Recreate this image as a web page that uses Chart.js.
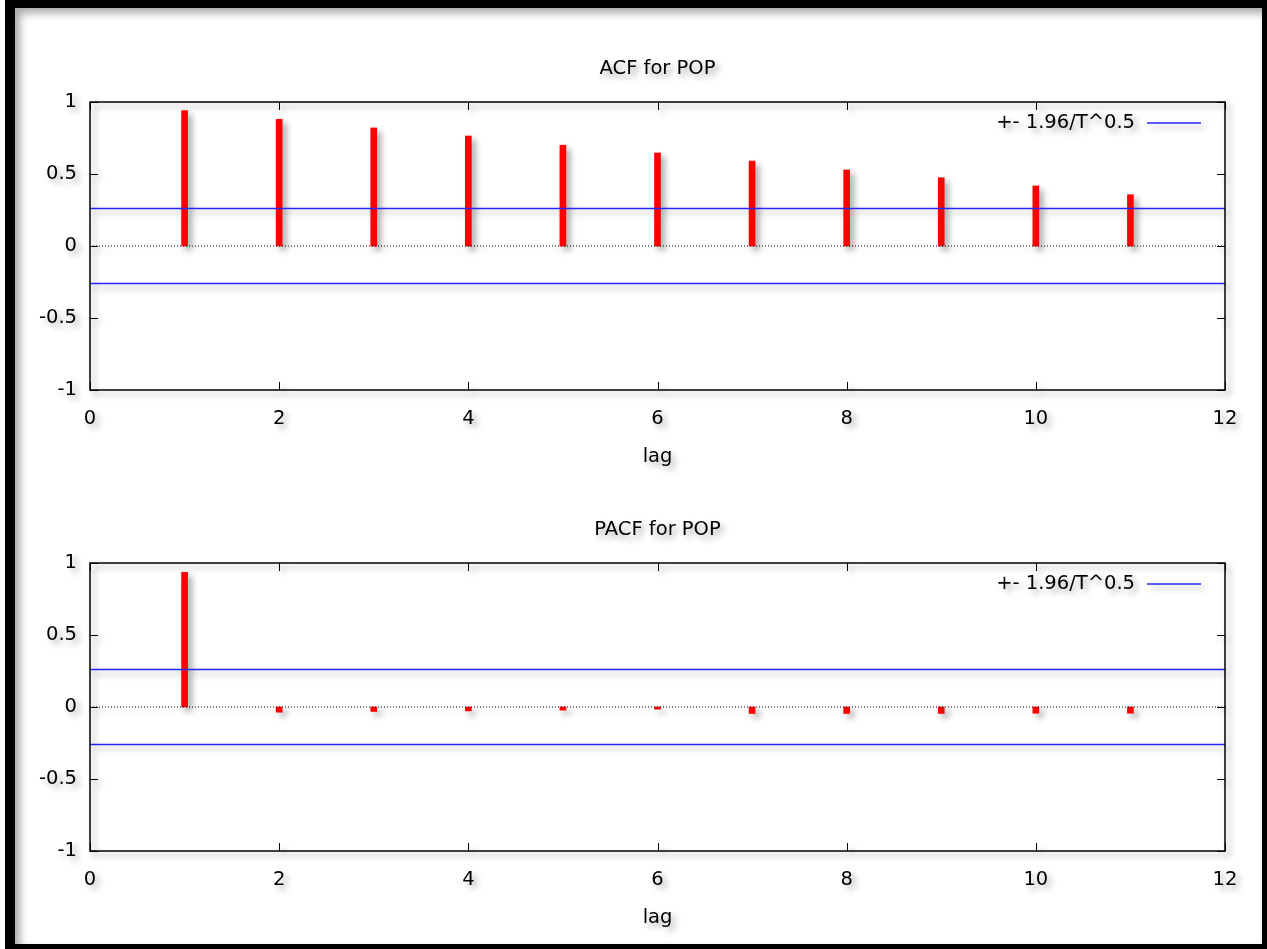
<!DOCTYPE html>
<html>
<head>
<meta charset="utf-8">
<title>ACF / PACF for POP</title>
<script src="https://cdn.jsdelivr.net/npm/chart.js@4.4.1/dist/chart.umd.min.js"></script>
<style>
  html, body { margin: 0; padding: 0; background: #fff; }
  body { width: 1267px; height: 949px; position: relative; overflow: hidden; }
  #frame {
    position: absolute; left: 5px; top: 0; width: 1262px; height: 949px;
    box-sizing: border-box; border-style: solid; border-color: #000;
    border-width: 8px 5px 5px 10px;
    box-shadow: inset 5px 5px 8px rgba(0,0,0,0.35);
  }
  canvas { position: absolute; left: 0; filter: drop-shadow(4px 4px 3px rgba(0,0,0,0.35)); }
  #acf { top: 0; }
  #pacf { top: 461px; }
</style>
</head>
<body>
<div id="frame"></div>
<canvas id="acf" width="1267" height="480"></canvas>
<canvas id="pacf" width="1267" height="480"></canvas>
<script>
// values
const lags = [1, 2, 3, 4, 5, 6, 7, 8, 9, 10, 11];
const acfValues = [0.94, 0.88, 0.82, 0.764, 0.70, 0.646, 0.59, 0.528, 0.474, 0.417, 0.356];
const pacfValues = [0.935, -0.036, -0.031, -0.027, -0.022, -0.015, -0.045, -0.045, -0.045, -0.043, -0.043];
const bandValue = 0.26; // +- 1.96/T^0.5
const bandLabel = '+- 1.96/T^0.5';
const lagRange = [0, 12];
const xTickStep = 2;
const yRange = [-1, 1];
const yTickStep = 0.5;

const FONT = { family: 'DejaVu Sans', size: 19.5 };

// gnuplot style box: frame, inward mirrored ticks and the key
const gnuplotBox = {
  id: 'gnuplotBox',
  afterDraw(chart) {
    const { ctx, chartArea: a, scales: { x, y } } = chart;
    ctx.save();
    ctx.strokeStyle = '#000';
    ctx.lineWidth = 1;
    ctx.beginPath();
    x.ticks.forEach(t => {
      const px = Math.round(x.getPixelForValue(t.value)) + 0.5;
      ctx.moveTo(px, a.bottom); ctx.lineTo(px, a.bottom - 8);
      ctx.moveTo(px, a.top); ctx.lineTo(px, a.top + 8);
    });
    y.ticks.forEach(t => {
      const py = Math.round(y.getPixelForValue(t.value)) + 0.5;
      ctx.moveTo(a.left, py); ctx.lineTo(a.left + 8, py);
      ctx.moveTo(a.right, py); ctx.lineTo(a.right - 8, py);
    });
    ctx.stroke();
    ctx.lineWidth = 1.5;
    ctx.strokeRect(a.left, a.top, a.width, a.height);

    const band = chart.data.datasets[0];
    const ly = a.top + 21;
    ctx.font = FONT.size + 'px "' + FONT.family + '"';
    ctx.fillStyle = '#000';
    ctx.textAlign = 'right';
    ctx.textBaseline = 'middle';
    ctx.fillText(band.label, a.right - 90, ly);
    ctx.strokeStyle = band.borderColor;
    ctx.lineWidth = band.borderWidth;
    ctx.beginPath();
    ctx.moveTo(a.right - 78, ly);
    ctx.lineTo(a.right - 24, ly);
    ctx.stroke();
    ctx.restore();
  }
};

function makeCorrelogram(id, title, values) {
  const ctx = document.getElementById(id);
  return new Chart(ctx, {
    type: 'bar',
    data: {
      datasets: [
        {
          type: 'line',
          label: bandLabel,
          data: lagRange.map(v => ({ x: v, y: bandValue })),
          borderColor: '#2424ff',
          borderWidth: 1.5,
          pointRadius: 0
        },
        {
          type: 'line',
          label: 'lower',
          data: lagRange.map(v => ({ x: v, y: -bandValue })),
          borderColor: '#2424ff',
          borderWidth: 1.5,
          pointRadius: 0
        },
        {
          type: 'line',
          label: 'zero',
          data: lagRange.map(v => ({ x: v, y: 0 })),
          borderColor: '#000',
          borderWidth: 1,
          borderDash: [1, 2],
          pointRadius: 0
        },
        {
          label: title,
          data: lags.map((lag, i) => ({ x: lag, y: values[i] })),
          backgroundColor: '#ff0000',
          barThickness: 6
        }
      ]
    },
    options: {
      responsive: false,
      animation: false,
      layout: { padding: { left: 0, right: 42, top: 0, bottom: 0 } },
      plugins: {
        legend: { display: false },
        tooltip: { enabled: false },
        title: {
          display: true,
          fullSize: false,
          text: title,
          color: '#000',
          font: { family: FONT.family, size: FONT.size, weight: 'normal' },
          padding: { top: 57, bottom: 21.6 }
        }
      },
      scales: {
        x: {
          type: 'linear',
          min: lagRange[0],
          max: lagRange[1],
          offset: false,
          grid: { display: false, drawTicks: false },
          border: { display: false },
          ticks: {
            stepSize: xTickStep,
            padding: 17,
            color: '#000',
            font: { family: FONT.family, size: FONT.size }
          },
          title: {
            display: true,
            text: 'lag',
            color: '#000',
            font: { family: FONT.family, size: FONT.size },
            padding: { top: 4, bottom: 11 }
          },
          afterFit(scale) { scale.height = 90; }
        },
        y: {
          min: yRange[0],
          max: yRange[1],
          grid: { display: false, drawTicks: false },
          border: { display: false },
          ticks: {
            stepSize: yTickStep,
            padding: 13,
            color: '#000',
            font: { family: FONT.family, size: FONT.size },
            callback: v => String(v)
          },
          afterFit(scale) { scale.width = 90; }
        }
      }
    },
    plugins: [gnuplotBox]
  });
}

makeCorrelogram('acf', 'ACF for POP', acfValues);
makeCorrelogram('pacf', 'PACF for POP', pacfValues);
</script>
</body>
</html>
